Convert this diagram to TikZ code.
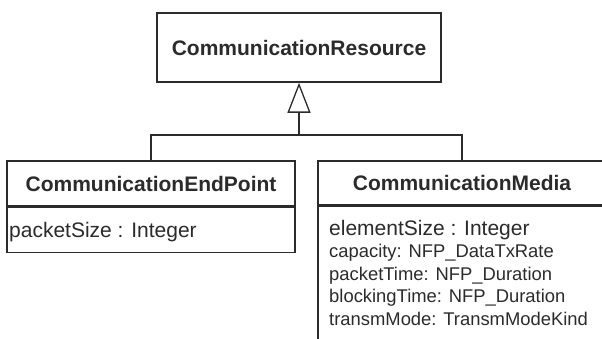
\documentclass[tikz,border=0pt]{standalone}
\usepackage{fontspec}
\setmainfont{Liberation Sans}
\usetikzlibrary{arrows.meta,positioning}
\definecolor{umlline}{HTML}{2B2B2B}

\begin{document}
\begin{tikzpicture}[
  x=1pt, y=1pt,
  classbox/.style={draw=umlline, line width=1.6pt, fill=white, minimum width=288pt, minimum height=45pt, align=center, text=umlline, font=\bfseries\fontsize{21}{25}\selectfont},
  attrbox/.style={draw=umlline, line width=1.6pt, fill=white, minimum width=288pt},
  attrtext/.style={inner sep=0pt, anchor=base west, text=umlline, font=\fontsize{21}{25}\selectfont},
  smalltext/.style={attrtext, font=\fontsize{18.4}{22}\selectfont},
  gen/.style={draw=umlline, line width=1.3pt},
  inherit/.style={gen, -{Triangle[open, length=30pt, width=23pt]}}
]
\useasboundingbox (0,0) rectangle (602,-339);
\clip (0,0) rectangle (602,-339);

\node[classbox, minimum width=284pt, minimum height=69pt] (res) at (299,-47.5) {CommunicationResource};

\node[classbox] (ep) at (151,-183.5) {CommunicationEndPoint};
\node[attrbox, minimum height=45pt, below=0pt of ep] (epattr) {};
\node[attrtext] (ps) at (9,-237) {packetSize : Integer};

\node[classbox, minimum height=44pt] (cm) at (462,-183) {CommunicationMedia};
\node[attrbox, minimum height=150pt, below=0pt of cm] (cmattr) {};
\node[attrtext] (es) at (329,-235) {elementSize : Integer};
\foreach \txt/\yy [count=\i] in {capacity: NFP\_DataTxRate/257.5, packetTime: NFP\_Duration/280, blockingTime: NFP\_Duration/302.5, transmMode: TransmModeKind/325}
  \node[smalltext] (ma\i) at (329,-\yy) {\txt};

% generalization
\coordinate (fork) at (299,-135);
\draw[gen] (ep.north) |- (fork) -| (cm.north);
\draw[inherit] (fork) -- (res.south);
\end{tikzpicture}
\end{document}
